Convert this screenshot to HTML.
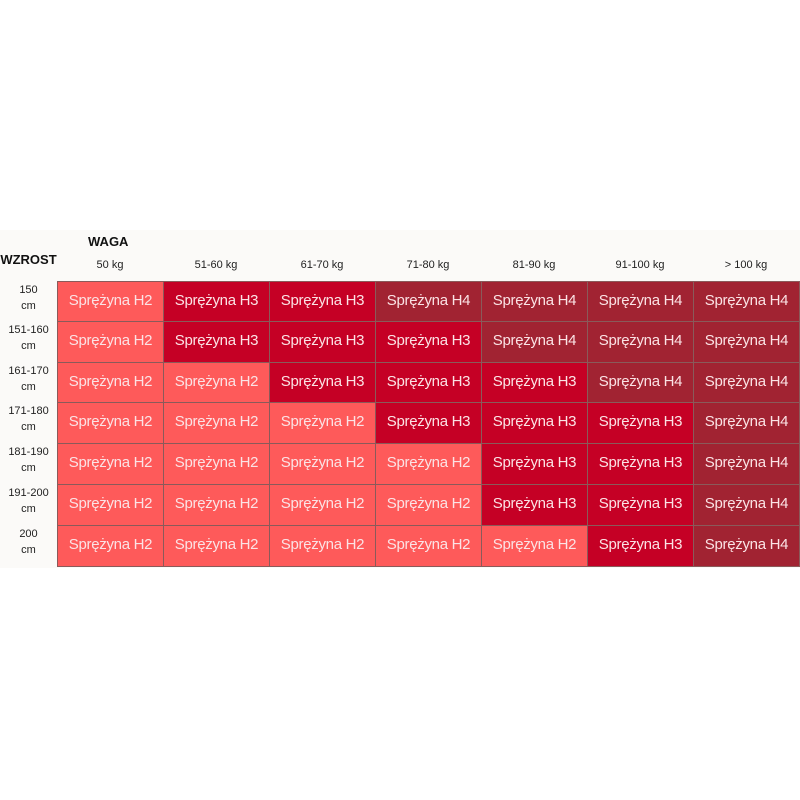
<!DOCTYPE html>
<html><head><meta charset="utf-8"><style>
body{margin:0;width:800px;height:800px;background:#fff;position:relative;font-family:"Liberation Sans",sans-serif;overflow:hidden}
.bg{position:absolute;left:0;top:230px;width:800px;height:338px;background:#fbfaf8}
.c{position:absolute;box-sizing:border-box;border:1px solid #8a5a5a;color:#fbe3e5;font-size:15px;display:flex;align-items:center;justify-content:center;letter-spacing:-0.3px;padding-bottom:3px}
.h{position:absolute;font-size:11px;color:#222;text-align:center}
.r{position:absolute;left:0;width:57px;font-size:11px;color:#222;text-align:center;line-height:16px}
</style></head><body>
<div class="bg"></div>
<div class="h" style="left:88px;top:234px;font-weight:bold;font-size:13px;color:#111">WAGA</div>
<div class="h" style="left:0;top:252px;width:57px;font-weight:bold;font-size:13px;color:#111">WZROST</div>
<div id="g"></div>
<script>
const cols=[57,163,269,375,481,587,693,799],rows=[281,321,362,402,443,484,525,566];
const hd=["50 kg","51-60 kg","61-70 kg","71-80 kg","81-90 kg","91-100 kg","> 100 kg"];
const rl=["150<br>cm","151-160<br>cm","161-170<br>cm","171-180<br>cm","181-190<br>cm","191-200<br>cm","200<br>cm"];
const m=["2334444","2333444","2233344","2223334","2222334","2222334","2222234"];
const col={2:"#fe5a5a",3:"#c50025",4:"#a12332"};
let h="";
for(let j=0;j<7;j++)h+=`<div class="h" style="left:${cols[j]}px;width:${cols[j+1]-cols[j]}px;top:259px">${hd[j]}</div>`;
for(let i=0;i<7;i++){
h+=`<div class="r" style="top:${rows[i]+1}px">${rl[i]}</div>`;
for(let j=0;j<7;j++){const v=m[i][j];
h+=`<div class="c" style="left:${cols[j]}px;top:${rows[i]}px;width:${cols[j+1]-cols[j]+1}px;height:${rows[i+1]-rows[i]+1}px;background:${col[v]}">Sprężyna H${v}</div>`;}}
document.getElementById("g").innerHTML=h;
</script>
</body></html>
